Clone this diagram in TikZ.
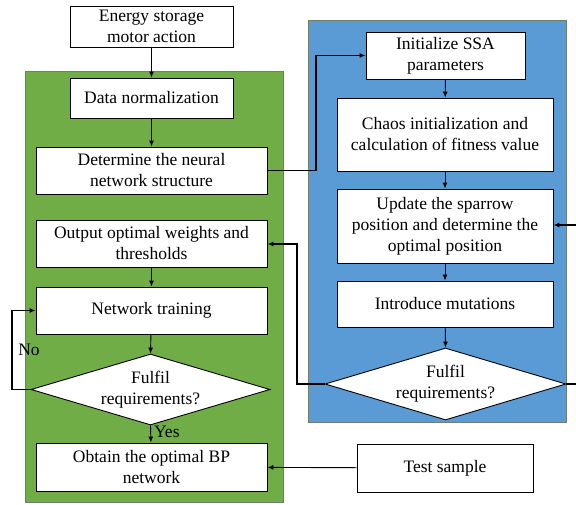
\documentclass[tikz,border=0pt]{standalone}
\usepackage{fontspec}
\setmainfont{Liberation Serif}
\usepackage{tikz}
\usetikzlibrary{arrows.meta, positioning, calc, shapes.geometric}
\usepackage{xcolor}
\definecolor{panelgreen}{HTML}{70AD47}
\definecolor{panelblue}{HTML}{5B9BD5}
\definecolor{panelline}{HTML}{6F7F68}

\begin{document}
\begin{tikzpicture}[x=1pt, y=-1pt,
    every node/.style={font=\fontsize{17.5}{21}\selectfont},
    stepbox/.style={draw, fill=white, line width=0.9pt, align=center, inner sep=2pt},
    decide/.style={draw, fill=white, diamond, line width=0.9pt, inner sep=0pt},
    flow/.style={-{Latex[length=6pt, width=5pt]}, line width=0.9pt},
    loop/.style={-{Latex[length=6pt, width=5pt]}, line width=1.3pt}]
    \useasboundingbox (0, 0) rectangle (576, 504);

    % Panels
    \draw[fill=panelgreen, draw=panelline, line width=0.8pt] (25, 71) rectangle (283, 502);
    \draw[fill=panelblue, draw=panelline, line width=0.8pt] (308, 20) rectangle (566, 422);

    % Left block
    \node[stepbox, minimum width=163, minimum height=41] (energy) at (151.5, 26.5) {Energy storage\\motor action};
    \node[stepbox, minimum width=163, minimum height=40] (norm) at (151.5, 98) {Data normalization};
    \node[stepbox, minimum width=231, minimum height=47] (struct) at (151.5, 170.5) {Determine the neural\\network structure};
    \node[stepbox, minimum width=231, minimum height=47] (weights) at (151.5, 243.5) {Output optimal weights and\\thresholds};
    \node[stepbox, minimum width=231, minimum height=47] (train) at (151.5, 310.5) {Network training};
    \node[decide, minimum width=239, minimum height=71] (fulfilA) at (150.5, 389.5) {};
    \node[align=center] (fulfilAtext) at (fulfilA) {Fulfil\\requirements?};
    \node[stepbox, minimum width=231, minimum height=48] (bp) at (151.5, 467) {Obtain the optimal BP\\network};

    % Right block
    \node[stepbox, minimum width=159, minimum height=47] (init) at (445.5, 55.5) {Initialize SSA\\parameters};
    \node[stepbox, minimum width=216, minimum height=73] (chaos) at (445, 134.5) {Chaos initialization and\\calculation of fitness value};
    \node[stepbox, minimum width=216, minimum height=74] (update) at (445, 226) {Update the sparrow\\position and determine the\\optimal position};
    \node[stepbox, minimum width=216, minimum height=46] (mutate) at (445, 304) {Introduce mutations};
    \node[decide, minimum width=241, minimum height=72] (fulfilB) at (445.5, 384) {};
    \node[align=center] (fulfilBtext) at (fulfilB) {Fulfil\\requirements?};
    \node[stepbox, minimum width=176, minimum height=48] (test) at (445, 468) {Test sample};

    % Straight arrows
    \draw[flow] (energy) -- (norm);
    \draw[flow] (norm) -- (struct);
    \draw[flow] (weights) -- (train);
    \draw[flow] (train) -- (fulfilA.north);
    \draw[flow] (fulfilA.south) -- (bp) node[pos=0.35, right, inner sep=3pt] (yes) {Yes};
    \draw[flow] (init) -- (chaos);
    \draw[flow] (chaos) -- (update);
    \draw[flow] (update) -- (mutate);
    \draw[flow] (mutate) -- (fulfilB.north);
    \draw[flow] (test) -- (bp);

    % Loops
    \coordinate (noturn) at (12, 389.5);
    \draw[loop] (fulfilA.west) -- (noturn) |- (train.west);
    \node (no) at (29, 350) {No};
    \coordinate (ssaturn) at (316, 170.5);
    \draw[loop] (struct.east) -- (ssaturn) |- (init.west);
    \coordinate (backturn) at (297, 384);
    \draw[loop] (fulfilB.west) -- (backturn) |- ($(weights.east)+(0,0.5)$);
    \coordinate (edgeturn) at (578, 384);
    \draw[loop] (fulfilB.east) -- (edgeturn) |- ($(update.east)+(0,-1)$);
\end{tikzpicture}
\end{document}
